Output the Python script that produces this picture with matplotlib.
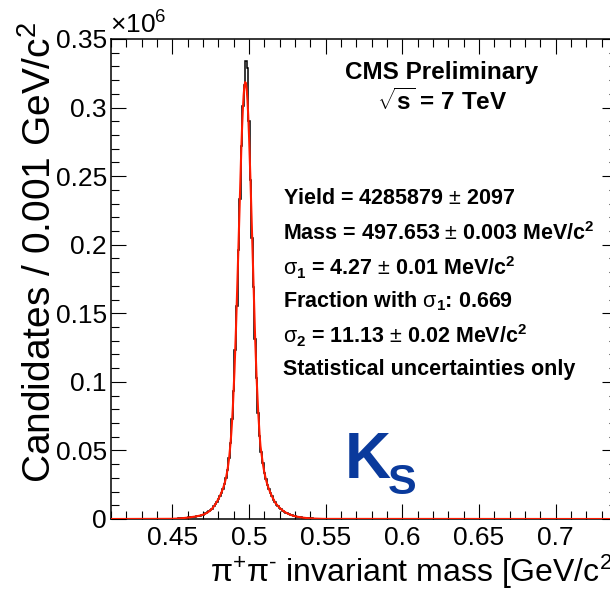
import numpy as np
import matplotlib
matplotlib.use("Agg")
import matplotlib.pyplot as plt
from matplotlib.ticker import MultipleLocator, FuncFormatter

plt.rcParams['font.family'] = ['Liberation Sans', 'DejaVu Sans']
plt.rcParams['mathtext.fontset'] = 'custom'
plt.rcParams['mathtext.rm'] = 'Liberation Sans'
plt.rcParams['mathtext.it'] = 'Liberation Sans'
plt.rcParams['mathtext.bf'] = 'Liberation Sans:bold'

# ---- data: histogram (bins of 1 MeV, centres in MeV, from 445 to 550) ----
hist_start_mev = 445
hist_counts = [62, 74, 92, 103, 128, 148, 195, 236, 305, 365,
               455, 535, 650, 745, 880, 990, 1150, 1280, 1460, 1610,
               1820, 1990, 2250, 2480, 2820, 3140, 3620, 4120, 4830, 5580,
               6540, 7620,
               9130, 10680, 12550, 14480, 16800, 19200, 22200, 25500, 30200, 35600,
               44600, 55300, 72800, 93500, 123200, 155400, 196000, 233000, 272000, 301000,
               316500, 334000, 329000, 290000, 247000, 205000, 169000, 131000, 102800, 77400,
               60700,
               48600, 40900, 33700, 29300, 24800, 21950, 18900, 16600, 14100, 12100,
               10500, 9350, 8050, 7150, 6150, 5450, 4650, 4120, 3520, 3120,
               2680, 2360, 2040, 1790, 1540, 1360, 1160, 1020, 860, 755,
               635, 555, 465, 405, 335, 292, 243, 207, 168, 142,
               113, 96, 77]

# ---- data: fit curve sampled at integer MeV (445 to 550) ----
fit_start_mev = 445
fit_counts = [60, 75, 90, 105, 125, 150, 190, 240, 300, 370,
              450, 540, 640, 750, 870, 1000, 1140, 1290, 1450, 1620,
              1800, 2000, 2230, 2500, 2800, 3150, 3600, 4150, 4800, 5600,
              6500, 7650,
              9099, 10712, 12515, 14518, 16742, 19245, 22129, 25590, 29984, 35882,
              44116, 55759, 72013, 93972, 122199, 156326, 194658, 234071, 270389, 298907,
              315559, 317809, 305300, 279966, 245514, 206547, 167504, 131867, 101775, 77962,
              60093,
              49000, 40500, 34000, 29000, 25000, 21800, 19000, 16500, 14200, 12000,
              10600, 9300, 8100, 7100, 6200, 5400, 4700, 4100, 3550, 3100,
              2700, 2350, 2050, 1780, 1550, 1350, 1170, 1010, 870, 750,
              640, 550, 470, 400, 340, 290, 245, 205, 170, 140,
              115, 95, 78]
# extra fit samples at half-MeV in the peak core (488.5 to 507.5)
fit_core_start_mev = 488.5
fit_core_counts = [63239, 82228, 107305, 138603, 175135, 214487, 252921, 285901,
                   308919, 318561, 313328, 294037, 263601, 226306, 186782, 149090,
                   116057, 89078, 68346, 53100]

x_range = (0.41, 0.74)
y_range = (0.0, 0.35)
x_ticks = [0.45, 0.5, 0.55, 0.6, 0.65, 0.7]
y_ticks = [0, 0.05, 0.1, 0.15, 0.2, 0.25, 0.3, 0.35]

stat_lines = [
    r"Yield = 4285879 $\pm$ 2097",
    r"Mass = 497.653 $\pm$ 0.003 MeV/c$^{\mathbf{2}}$",
    r"$\sigma_{\mathbf{1}}$ = 4.27 $\pm$ 0.01 MeV/c$^{\mathbf{2}}$",
    r"Fraction with $\sigma_{\mathbf{1}}$: 0.669",
    r"$\sigma_{\mathbf{2}}$ = 11.13 $\pm$ 0.02 MeV/c$^{\mathbf{2}}$",
    r"Statistical uncertainties only",
]

# ---- build arrays ----
n_bins_total = int(round((x_range[1] - x_range[0]) * 1000)) + 1
hist_full = np.zeros(n_bins_total)
i0 = hist_start_mev - 410
hist_full[i0:i0 + len(hist_counts)] = hist_counts
edges = (np.arange(n_bins_total + 1) + 409.5) / 1000.0

fit_mev = list(np.arange(fit_start_mev, fit_start_mev + len(fit_counts)))
fit_mev += list(fit_core_start_mev + np.arange(len(fit_core_counts)))
fit_val = list(fit_counts) + list(fit_core_counts)
order = np.argsort(fit_mev)
fit_mev = np.array(fit_mev)[order]
fit_val = np.array(fit_val)[order]
fit_mev = np.concatenate([[410], fit_mev, [740]])
fit_val = np.concatenate([[0], fit_val, [0]])

# ---- figure ----
W, H = 610, 592
fig = plt.figure(figsize=(W / 100, H / 100), dpi=100)
fig.patch.set_facecolor('white')
ax = fig.add_axes([111 / W, 73 / H, 506 / W, 480 / H])

ax.stairs(hist_full * 1e-6, edges, color='black', lw=1.1, zorder=2)
ax.plot(fit_mev / 1000.0, fit_val * 1e-6, color='#ff1a00', lw=1.5, zorder=3)

ax.set_xlim(*x_range)
ax.set_ylim(*y_range)
ax.set_xticks(x_ticks)
ax.set_yticks(y_ticks)
ax.xaxis.set_minor_locator(MultipleLocator(0.01))
ax.yaxis.set_minor_locator(MultipleLocator(0.01))
fmt = FuncFormatter(lambda v, p: f"{v:g}")
ax.xaxis.set_major_formatter(fmt)
ax.yaxis.set_major_formatter(fmt)
ax.tick_params(which='both', direction='in', top=True, right=True,
               width=0.8, labelsize=19, color='black')
ax.tick_params(which='major', length=10.5)
ax.tick_params(which='minor', length=5.5)
ax.tick_params(axis='x', pad=5)
ax.tick_params(axis='y', pad=3)
for s in ax.spines.values():
    s.set_linewidth(1.1)

# axis titles
fig.text(40 / W, 1 - 252 / H, r"Candidates / 0.001 GeV/c$^{2}$", rotation=90,
         fontsize=28, ha='center', va='center')
fig.text(210 / W, 1 - 582 / H, "π$^{+}$π$^{\u2010}$ invariant mass [GeV/c$^{2}$]",
         fontsize=23, ha='left', va='baseline')
fig.text(110 / W, 1 - 34 / H, r"×10$^{6}$", fontsize=19, ha='left', va='baseline')

# labels inside
fig.text(442 / W, 1 - 72 / H, "CMS Preliminary", fontsize=17.5, fontweight='bold',
         ha='center', va='center')
fig.text(442 / W, 1 - 102 / H, r"$\sqrt{\mathbf{s}}$ = 7 TeV", fontsize=17.5,
         fontweight='bold', ha='center', va='center')
y0 = 199
for i, line in enumerate(stat_lines):
    fig.text(283 / W, 1 - (y0 + i * 34.2) / H, line, fontsize=15.5, fontweight='bold',
             ha='left', va='center')

fig.text(345 / W, 1 - 478 / H, "K", fontsize=46, fontweight='bold', color='#0a3a9c',
         ha='left', va='baseline')
fig.text(388 / W, 1 - 494 / H, "S", fontsize=31, fontweight='bold', color='#0a3a9c',
         ha='left', va='baseline')

fig.savefig("out.png", dpi=100)
